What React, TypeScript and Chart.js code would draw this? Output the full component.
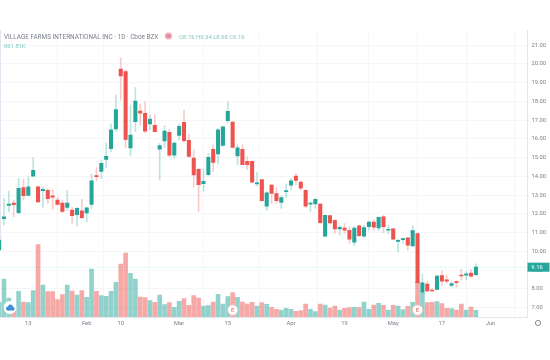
import React, { useEffect, useRef } from "react";
import { Chart, registerables } from "chart.js";

Chart.register(...registerables);

// Session index of the first candle (partly hidden at the left edge)
const firstIndex = -1;

const opens = [10.08,11.75,12.46,12.58,12.07,13.40,12.99,14.01,13.45,13.24,13.26,12.97,12.74,12.58,12.35,12.21,11.96,12.17,12.05,12.51,14.02,14.27,14.91,15.48,16.53,19.73,19.59,15.52,16.92,17.49,17.37,16.80,16.73,15.46,15.89,16.35,15.13,16.19,16.89,15.93,14.98,14.38,13.61,14.09,15.45,15.20,15.66,16.97,16.90,15.09,15.45,14.81,14.81,13.60,13.83,12.42,13.54,13.08,12.62,13.19,13.53,14.02,13.70,13.26,12.52,12.53,12.53,10.82,11.91,11.66,11.20,11.25,11.13,10.50,11.37,10.82,11.32,11.57,11.25,11.84,11.13,11.21,10.54,10.63,10.72,10.29,10.95,7.84,8.26,7.94,7.98,8.71,8.48,8.19,8.39,8.74,8.73,8.85,8.76];
const highs = [11.00,12.83,13.22,12.74,13.90,13.85,13.99,15.02,13.49,13.45,13.36,13.28,12.87,12.74,13.24,12.35,12.35,12.78,12.35,14.11,14.47,14.88,15.77,16.80,18.34,20.32,19.68,17.81,18.75,17.86,17.99,17.28,17.28,15.77,16.69,16.51,15.85,16.80,17.54,16.25,15.41,14.43,14.38,15.23,15.68,16.57,16.69,17.99,16.92,15.68,15.68,15.05,14.83,14.22,13.86,13.19,13.56,13.42,12.96,13.60,13.90,14.17,13.77,13.28,12.65,12.83,12.57,11.94,11.94,11.68,11.41,11.50,11.32,11.32,11.41,11.41,11.62,11.68,11.85,11.94,11.41,11.23,10.66,10.73,10.75,11.37,11.00,8.80,8.39,8.03,8.74,8.97,8.74,8.39,8.44,9.05,8.92,9.05,9.34];
const lows = [9.90,11.41,12.12,11.85,12.00,12.74,12.99,14.01,12.60,12.35,12.56,12.25,12.48,12.07,12.17,11.50,11.36,11.75,11.59,12.30,13.76,13.90,14.47,15.32,16.40,18.08,15.52,15.11,16.39,16.74,16.33,16.48,16.39,13.81,15.53,15.05,14.97,15.94,15.80,15.02,13.45,12.12,13.22,14.02,14.25,14.66,15.62,16.87,15.53,14.61,14.61,14.38,13.68,13.49,12.69,12.17,12.53,12.57,12.30,12.87,13.28,13.54,13.28,12.33,12.12,12.30,11.50,10.79,11.46,10.97,10.88,10.97,10.43,10.29,10.79,10.75,11.14,11.11,11.11,11.00,10.93,10.61,9.99,10.43,10.08,10.25,8.30,7.77,7.84,7.85,7.94,8.17,8.30,8.09,8.09,8.48,8.48,8.62,8.68];
const closes = [10.85,11.85,12.53,12.49,13.36,12.97,13.44,14.33,12.64,13.31,12.81,12.90,12.51,12.14,12.58,11.91,12.30,11.80,12.32,13.76,13.99,14.70,15.07,16.48,17.57,19.36,15.97,16.21,18.02,17.38,16.41,17.06,16.39,15.64,16.42,15.14,15.78,16.67,15.91,15.07,14.08,13.56,13.74,15.02,14.75,16.49,16.65,17.47,15.55,15.52,14.63,14.63,13.70,13.65,12.71,13.12,13.10,12.71,12.87,13.22,13.77,13.79,13.37,12.41,12.55,12.78,11.53,11.93,11.52,11.20,11.29,11.13,10.65,11.25,10.84,11.27,11.57,11.29,11.82,11.32,11.16,10.66,10.59,10.68,10.34,11.11,8.33,8.33,7.89,7.89,8.68,8.42,8.42,8.28,8.33,8.69,8.80,8.68,9.16];
// Volume in millions of shares
const volumes = [1.89,4.89,2.44,1.16,3.30,1.93,1.84,3.39,9.30,4.12,3.26,3.26,2.23,2.87,4.12,3.34,2.83,3.39,2.53,6.17,3.30,2.74,2.66,3.30,4.46,6.82,8.23,5.62,4.89,2.57,2.49,2.10,1.89,2.83,1.59,1.84,1.24,2.01,2.36,1.50,2.74,2.44,1.41,1.46,1.93,2.92,1.67,2.62,3.13,2.53,1.93,1.67,1.89,1.41,1.84,1.63,1.24,0.99,0.90,1.11,0.99,0.73,0.81,1.67,0.99,0.69,1.67,1.54,1.16,1.41,0.90,1.11,1.20,1.24,1.20,1.93,0.99,1.54,1.76,1.50,0.90,1.50,1.40,0.94,1.38,1.89,4.59,3.20,1.84,1.89,1.97,1.71,1.12,1.07,0.90,1.67,0.90,1.29,0.86];
const dateTickIndexes = [5,17,24,36,46,59,70,80,90,100];
const dateTickLabels = ["13","Feb","10","Mar","15","Apr","19","May","17","Jun"];
const priceTicks = [7,8,9,10,11,12,13,14,15,16,17,18,19,20,21];
const earningsIndexes = [47,85];

const TITLE = "VILLAGE FARMS INTERNATIONAL INC · 1D · Cboe BZX";
const OHLC_TEXT = "O8.76 H9.34 L8.68 C9.16";
const VOLUME_TEXT = "861.81K";
const LAST_PRICE = 9.16;

const UP = "#26a69a";
const DOWN = "#ef5350";
const FONT = "Roboto, 'Liberation Sans', sans-serif";

const xs = opens.map((_, i) => i + firstIndex);
const isUp = opens.map((o, i) => closes[i] >= o);
const bodyColors = isUp.map((u) => (u ? UP : DOWN));
const wickColors = isUp.map((u) => (u ? "rgba(38,166,154,0.3)" : "rgba(239,83,80,0.3)"));
const volumeColors = isUp.map((u) => (u ? "rgba(38,166,154,0.5)" : "rgba(239,83,80,0.5)"));

const overlay = {
  id: "overlay",
  afterDraw(chart: any) {
    const { ctx, scales, chartArea } = chart;
    const x = scales.x;
    const y = scales.y;
    ctx.save();
    // left rule
    ctx.fillStyle = "#e4e4f0";
    ctx.fillRect(0, chartArea.top, 1, 210);
    // header
    ctx.textBaseline = "middle";
    ctx.textAlign = "left";
    ctx.font = `6.4px ${FONT}`;
    ctx.fillStyle = "#7a7e8a";
    ctx.fillText(TITLE, 4, 37);
    ctx.fillStyle = "#f7a9bc";
    ctx.beginPath();
    ctx.arc(168.5, 36, 3.6, 0, Math.PI * 2);
    ctx.fill();
    ctx.fillStyle = "#a8647c";
    ctx.fillRect(166.8, 35, 3.4, 0.6);
    ctx.fillRect(166.8, 36.6, 3.4, 0.6);
    ctx.font = `5.9px ${FONT}`;
    ctx.fillStyle = "#83c9c2";
    ctx.fillText(OHLC_TEXT, 179, 37.5);
    ctx.fillText(VOLUME_TEXT, 4, 47);
    // last price line
    const ly = y.getPixelForValue(LAST_PRICE);
    ctx.strokeStyle = "rgba(38,166,154,0.18)";
    ctx.setLineDash([1, 1]);
    ctx.beginPath();
    ctx.moveTo(0, ly);
    ctx.lineTo(chartArea.right, ly);
    ctx.stroke();
    ctx.setLineDash([]);
    // last price tag
    ctx.fillStyle = UP;
    ctx.fillRect(chartArea.right, ly - 4.5, 22, 9);
    ctx.fillStyle = "#ffffff";
    ctx.font = `5.8px ${FONT}`;
    ctx.textAlign = "center";
    ctx.fillText(LAST_PRICE.toFixed(2), chartArea.right + 9.5, ly + 0.5);
    // earnings markers
    earningsIndexes.forEach((i) => {
      const cx = x.getPixelForValue(i);
      ctx.beginPath();
      ctx.arc(cx, 310, 5.2, 0, Math.PI * 2);
      ctx.fillStyle = "#ffffff";
      ctx.fill();
      ctx.strokeStyle = "#f7b5b5";
      ctx.lineWidth = 0.8;
      ctx.stroke();
      ctx.fillStyle = "#e06666";
      ctx.font = `6px ${FONT}`;
      ctx.fillText("E", cx, 310.3);
    });
    // cloud marker
    ctx.beginPath();
    ctx.arc(10, 307.5, 6.5, 0, Math.PI * 2);
    ctx.fillStyle = "#ffffff";
    ctx.fill();
    ctx.fillStyle = "#3d8ed8";
    ctx.beginPath();
    ctx.arc(8, 308.5, 2, 0, Math.PI * 2);
    ctx.arc(10.5, 306.8, 2.4, 0, Math.PI * 2);
    ctx.arc(13, 308.8, 1.7, 0, Math.PI * 2);
    ctx.fill();
    ctx.fillRect(7, 308.5, 6.5, 2);
    // settings gear
    ctx.strokeStyle = "#7a7e8a";
    ctx.lineWidth = 0.9;
    ctx.beginPath();
    ctx.arc(538, 323, 2.6, 0, Math.PI * 2);
    ctx.stroke();
    ctx.restore();
  },
};

export default function App() {
  const ref = useRef<HTMLCanvasElement>(null);
  useEffect(() => {
    document.body.style.margin = "0";
    const chart = new Chart(ref.current as HTMLCanvasElement, {
      type: "bar",
      data: {
        datasets: [
          {
            label: "Volume",
            yAxisID: "vol",
            order: 3,
            grouped: false,
            barThickness: 4,
            backgroundColor: volumeColors,
            data: xs.map((x, i) => ({ x, y: volumes[i] })),
          },
          {
            label: "Range",
            yAxisID: "y",
            order: 2,
            grouped: false,
            barThickness: 1,
            backgroundColor: wickColors,
            data: xs.map((x, i) => ({ x, y: [lows[i], highs[i]] })),
          },
          {
            label: "Open-Close",
            yAxisID: "y",
            order: 1,
            grouped: false,
            barThickness: 3.4,
            minBarLength: 1,
            backgroundColor: bodyColors,
            data: xs.map((x, i) => ({ x, y: [opens[i], closes[i]] })),
          },
        ],
      } as any,
      options: {
        responsive: false,
        animation: false,
        layout: { padding: { top: 30, left: 0, right: 0, bottom: 0 } },
        plugins: { legend: { display: false }, tooltip: { enabled: false } },
        scales: {
          x: {
            type: "linear",
            min: -0.82,
            max: 107.6,
            offset: false,
            afterBuildTicks: (s: any) => {
              s.ticks = dateTickIndexes.map((value) => ({ value }));
            },
            afterFit: (s: any) => {
              s.height = 43;
            },
            grid: { color: "#f5f6fa", lineWidth: 1, drawTicks: false },
            border: { color: "#e4e6ee" },
            ticks: {
              autoSkip: false,
              maxRotation: 0,
              padding: 3,
              color: "#7a7e8a",
              font: { size: 5.8, family: FONT },
              callback: (v: any) => dateTickLabels[dateTickIndexes.indexOf(v)] ?? "",
            },
          },
          y: {
            position: "right",
            min: 6.504,
            max: 21.81,
            afterBuildTicks: (s: any) => {
              s.ticks = priceTicks.map((value) => ({ value }));
            },
            afterFit: (s: any) => {
              s.width = 22.5;
            },
            grid: { color: "#f5f6fa", lineWidth: 1, drawTicks: false },
            border: { color: "#e4e6ee" },
            ticks: {
              padding: 4,
              color: "#7a7e8a",
              font: { size: 5.8, family: FONT },
              callback: (v: any) => Number(v).toFixed(2),
            },
          },
          vol: { display: false, min: 0, max: 36.9 },
        },
      } as any,
      plugins: [overlay],
    });
    return () => chart.destroy();
  }, []);
  return (
    <canvas
      ref={ref}
      width={550}
      height={360}
      style={{ display: "block", filter: "blur(0.35px)" }}
    />
  );
}
